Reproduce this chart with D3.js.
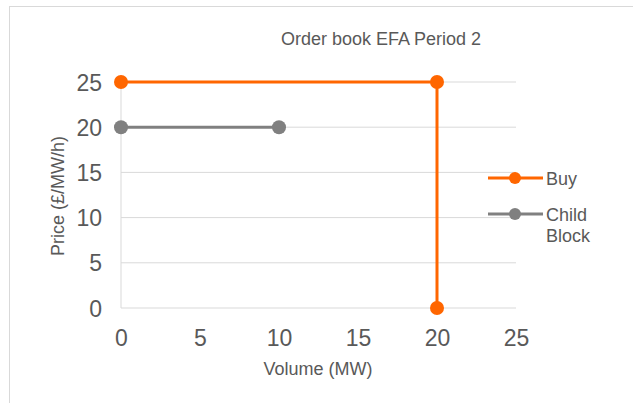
<!DOCTYPE html>
<html>
<head>
<meta charset="utf-8">
<script src="https://cdn.jsdelivr.net/npm/d3@7/dist/d3.min.js"></script>
<style>
body{margin:0;background:#fff;}
text{font-family:"Liberation Sans",Arial,sans-serif;}
</style>
</head>
<body>
<div id="chart_div"></div>
<script>
////////////////////////////////////////

var chart_w = 633;
var chart_h = 403;

var seriesNames = ['Buy','Child Block'];
var seriesColors = ['#ff6600','#808080'];
var buyVolume = [0,20,20];
var buyPrice = [25,25,0];
var childVolume = [0,10];
var childPrice = [20,20];
var xTicks = [0,5,10,15,20,25];
var yTicks = [0,5,10,15,20,25];

////////////////////////////////////////

var vis = d3.select('#chart_div')
	.append('svg')
	.attr('width',chart_w)
	.attr('height',chart_h);

vis.append('rect')
	.attr('x',9.5)
	.attr('y',6.5)
	.attr('width',chart_w+20)
	.attr('height',chart_h+20)
	.attr('fill','white')
	.attr('stroke','#d9d9d9');

var x = d3.scaleLinear().domain([0,25]).range([121,516]);
var y = d3.scaleLinear().domain([0,25]).range([308,82]);

// gridlines
vis.selectAll('line.grid')
	.data(yTicks)
	.enter()
		.append('line')
		.attr('class','grid')
		.attr('x1',x(0))
		.attr('x2',x(25))
		.attr('y1',function(d){ return y(d); })
		.attr('y2',function(d){ return y(d); })
		.attr('stroke','#d9d9d9')
		.attr('stroke-width',1);

vis.append('line')
	.attr('x1',x(0))
	.attr('x2',x(0))
	.attr('y1',y(0))
	.attr('y2',y(25))
	.attr('stroke','#d9d9d9');

// axes
var xAxis = vis.append('g')
	.attr('transform','translate(0,'+y(0)+')')
	.call(d3.axisBottom(x).tickValues(xTicks).tickSize(0).tickPadding(0));
xAxis.selectAll('text').attr('dy',null).attr('y',38);

var yAxis = vis.append('g')
	.attr('transform','translate('+(x(0))+',0)')
	.call(d3.axisLeft(y).tickValues(yTicks).tickSize(0).tickPadding(19));
yAxis.selectAll('text').attr('dy',8);

[xAxis,yAxis].forEach(function(a){
	a.select('.domain').remove();
	a.selectAll('text')
		.attr('fill','#595959')
		.attr('font-size',23)
		.attr('font-family','"Liberation Sans",Arial,sans-serif');
});

// titles
vis.append('text')
	.attr('x',381)
	.attr('y',45)
	.attr('text-anchor','middle')
	.attr('font-size',18)
	.attr('fill','#595959')
	.text('Order book EFA Period 2');

vis.append('text')
	.attr('x',318)
	.attr('y',375)
	.attr('text-anchor','middle')
	.attr('font-size',18)
	.attr('fill','#595959')
	.text('Volume (MW)');

vis.append('text')
	.attr('transform','translate(64,196) rotate(-90)')
	.attr('text-anchor','middle')
	.attr('font-size',18)
	.attr('fill','#595959')
	.text('Price (£/MW/h)');

////////////////////////////////////////

var series = [
	buyVolume.map(function(v,i){ return [v,buyPrice[i]]; }),
	childVolume.map(function(v,i){ return [v,childPrice[i]]; })
];

var line = d3.line()
	.x(function(d){ return x(d[0]); })
	.y(function(d){ return y(d[1]); });

// draw child block first, buy on top
[1,0].forEach(function(s){
	vis.append('path')
		.attr('d',line(series[s]))
		.attr('fill','none')
		.attr('stroke',seriesColors[s])
		.attr('stroke-width',3);
	vis.selectAll('circle.pt'+s)
		.data(series[s])
		.enter()
			.append('circle')
			.attr('class','pt'+s)
			.attr('cx',function(d){ return x(d[0]); })
			.attr('cy',function(d){ return y(d[1]); })
			.attr('r',7)
			.attr('fill',seriesColors[s]);
});

////////////////////////////////////////

var legendY = [178,214];
seriesNames.forEach(function(name,i){
	var g = vis.append('g').attr('transform','translate(0,'+legendY[i]+')');
	g.append('line')
		.attr('x1',488)
		.attr('x2',543)
		.attr('stroke',seriesColors[i])
		.attr('stroke-width',3);
	g.append('circle')
		.attr('cx',515)
		.attr('r',6)
		.attr('fill',seriesColors[i]);
	var words = name.split(' ');
	words.forEach(function(w,j){
		g.append('text')
			.attr('x',546)
			.attr('y',7+j*21)
			.attr('font-size',18)
			.attr('fill','#595959')
			.text(w);
	});
});
</script>
</body>
</html>
